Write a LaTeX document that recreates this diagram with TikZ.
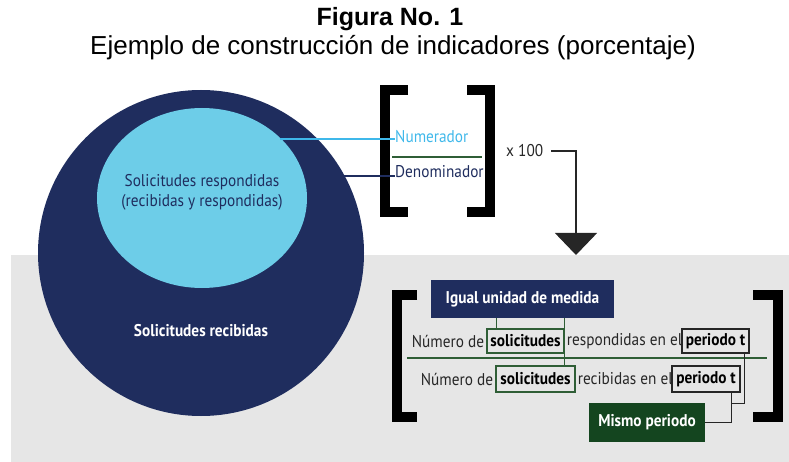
\documentclass[tikz,border=0pt]{standalone}
\usepackage{fontspec}
\setmainfont{Liberation Sans}
\newfontfamily\dfont[FakeStretch=0.9]{PT Sans}
\usetikzlibrary{shapes,arrows.meta,positioning}
\definecolor{navy}{HTML}{1F2D5E}
\definecolor{cielo}{HTML}{6DCDE8}
\definecolor{celeste}{HTML}{3FB8EA}
\definecolor{verde}{HTML}{14451F}
\definecolor{verdel}{HTML}{2F5E36}
\definecolor{gris}{HTML}{E6E6E6}
\definecolor{oscuro}{HTML}{262626}

\begin{document}
\begin{tikzpicture}[x=1pt, y=-1pt,
    txt/.style={font={\dfont\fontsize{17}{20}\selectfont}, text=oscuro, inner sep=0pt},
    bf/.style={font={\dfont\bfseries\fontsize{17}{20}\selectfont}},
    nbox/.style={fill=navy, text=white, bf, inner sep=0pt},
    vbox/.style={fill=verde, text=white, bf, inner sep=0pt},
    sbox/.style={draw=verdel, line width=1.3pt, text=black, bf, inner sep=0pt},
    pbox/.style={draw=oscuro, line width=1.3pt, text=black, bf, inner sep=0pt},
    gline/.style={verdel, line width=1.3pt},
    pline/.style={oscuro, line width=1.3pt},
    brk/.style={line width=10pt}]
    \useasboundingbox (0,0) rectangle (789,462);
    \fill[gris] (11,255) rectangle (789,462);
    % titulo
    \node[font={\bfseries\fontsize{25}{28}\selectfont}] (fig) at (390,19) {Figura No. 1};
    \node[font={\fontsize{26}{28}\selectfont}] (tit) at (393,48) {Ejemplo de construcción de indicadores (porcentaje)};
    % circulos
    \node[circle, fill=navy, minimum size=326, inner sep=0pt] (recib) at (201,253) {};
    \node[ellipse, fill=cielo, minimum width=210, minimum height=180, inner sep=0pt] (resp) at (202,198) {};
    \node[txt, bf, text=white] (recibtxt) at (201,331) {Solicitudes recibidas};
    \node[txt, text=navy, align=center] (resptxt) at (202,192) {Solicitudes respondidas\\(recibidas y respondidas)};
    % fraccion de arriba
    \draw[brk] (408,90) -- (385,90) -- (385,212) -- (408,212);
    \draw[brk] (467,90) -- (490,90) -- (490,212) -- (467,212);
    \node[txt, text=celeste, anchor=west] (num) at (395,137) {Numerador};
    \node[txt, text=navy, anchor=west] (den) at (395,172) {Denominador};
    \draw[verdel, line width=1.3pt] (392,157) -- (482,157);
    \coordinate (pn) at (280,139);
    \coordinate (pd) at (343,176);
    \draw[celeste, line width=1.2pt] (pn) -- (pn -| num.west);
    \draw[navy, line width=1.2pt] (pd) -- (pd -| den.west);
    \node[txt, anchor=west] (cien) at (506,151) {x 100};
    \coordinate (punta) at (576,255);
    \draw[pline, -{Triangle[width=42pt,length=22pt]}] (cien.east) ++(8,0) -| (punta);
    % fraccion de abajo
    \draw[brk] (417,295) -- (397,295) -- (397,417) -- (417,417);
    \draw[brk] (753,295) -- (778,295) -- (778,417) -- (753,417);
    \node[nbox, minimum width=183, minimum height=38] (igual) at (522.5,299) {Igual unidad de medida};
    \node[vbox, minimum width=116, minimum height=39] (mismo) at (647,422.5) {Mismo periodo};
    \node[sbox, minimum width=77, minimum height=24] (sol1) at (525.5,341) {solicitudes};
    \node[txt, left=2pt of sol1] (nro1) {Número de};
    \node[txt, right=2pt of sol1] (resp1) {respondidas en el};
    \node[pbox, minimum width=67, minimum height=24] (per1) at (715.5,341) {periodo t};
    \draw[verdel, line width=1.3pt] (407,358) -- (767,358);
    \node[sbox, minimum width=79, minimum height=26] (sol2) at (535.5,379) {solicitudes};
    \node[txt, left=2pt of sol2] (nro2) {Número de};
    \node[txt, right=2pt of sol2] (rec2) {recibidas en el};
    \node[pbox, minimum width=68, minimum height=26] (per2) at (706,379) {periodo t};
    % conectores
    \coordinate (s1) at ([xshift=10pt]sol1.north west);
    \draw[gline] (igual.south -| s1) -- (s1);
    \draw[gline] (igual.south -| sol1.east) -- (sol1.east |- sol2.north);
    \coordinate (c1) at ([xshift=-5pt]per1.south east);
    \coordinate (c2) at ([xshift=-9pt]per2.south east);
    \draw[pline] (c1) -- ++(0,50) -| (c2);
    \draw[pline] (c2) |- (mismo.east);
\end{tikzpicture}
\end{document}
